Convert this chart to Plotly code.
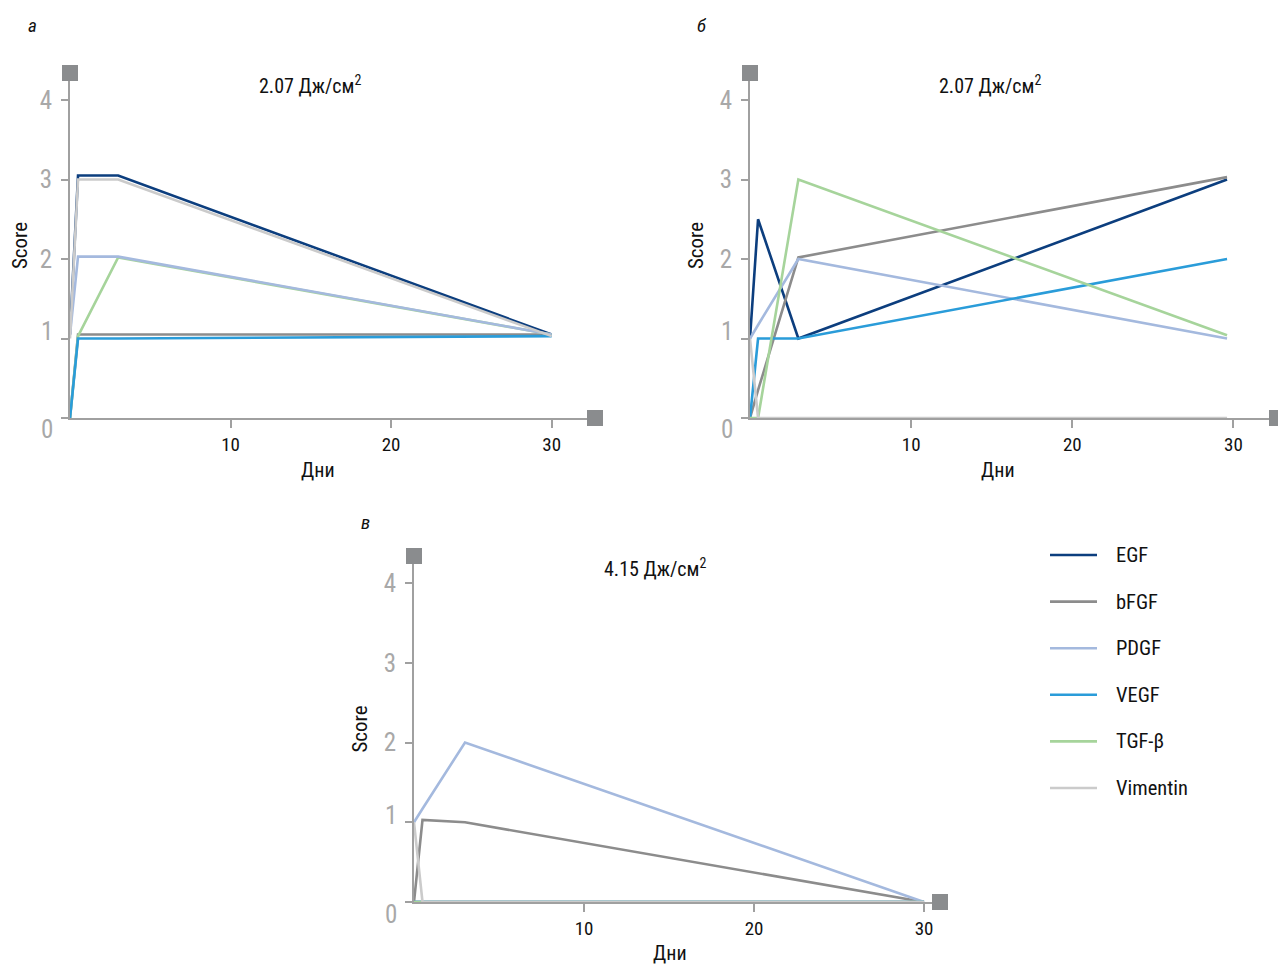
import plotly.graph_objects as go

# page body has an 8px margin; the figure is sized so it fills the rest of the window
OFF = 8
W, H = 1286 - OFF, 964 - OFF
FONT = "Liberation Sans Narrow, Roboto Condensed, Roboto, Arial Narrow, sans-serif"

# ---------------- data ----------------
series_names = ["EGF", "bFGF", "PDGF", "VEGF", "TGF-β", "Vimentin"]
series_colors = ["#0c3e7e", "#8c8c8c", "#a4b9de", "#2a9cd9", "#a6d49b", "#cbcbcb"]

panel_titles = ["2.07 Дж/см<sup>2</sup>", "2.07 Дж/см<sup>2</sup>", "4.15 Дж/см<sup>2</sup>"]
panel_letters = ["а", "б", "в"]
x_title = "Дни"
y_title = "Score"
x_ticks = [10, 20, 30]
y_ticks = [0, 1, 2, 3, 4]
y_ticktext = ["0", "1", "2", "3", "4"]

# panel а
days_a = [0, 0.5, 3, 30]
egf_a = [1.05, 3.05, 3.05, 1.05]
bfgf_a = [0, 1.05, 1.05, 1.05]
pdgf_a = [1.05, 2.03, 2.03, 1.05]
vegf_a = [0, 1.0, 1.0, 1.03]
tgf_a = [0, 1.03, 2.02, 1.05]
vim_a = [1.0, 3.0, 3.0, 1.03]

# panel б
days_b = [0, 0.5, 3, 29.6]
egf_b = [1.0, 2.5, 1.0, 3.0]
bfgf_b = [0, 0.35, 2.02, 3.03]
pdgf_b = [1.0, 1.17, 2.0, 1.0]
vegf_b = [0, 1.0, 1.0, 2.0]
tgf_b = [0, 0, 3.0, 1.04]
vim_b = [1.0, 0, 0, 0]

# panel в
days_c = [0, 0.5, 3, 30]
egf_c = [0, 0, 0, 0]
bfgf_c = [0, 1.03, 1.0, 0]
pdgf_c = [1.0, 1.17, 2.0, 0]
vegf_c = [0, 0, 0, 0]
tgf_c = [0, 0, 0, 0]
vim_c = [1.0, 0, 0, 0]

panels = [
    (days_a, [egf_a, bfgf_a, pdgf_a, vegf_a, tgf_a, vim_a]),
    (days_b, [egf_b, bfgf_b, pdgf_b, vegf_b, tgf_b, vim_b]),
    (days_c, [egf_c, bfgf_c, pdgf_c, vegf_c, tgf_c, vim_c]),
]
# drawing order of the series in each panel (indices into series_names)
draw_orders = [
    [0, 1, 4, 2, 3, 5],
    [0, 1, 2, 3, 4, 5],
    [0, 1, 2, 3, 4, 5],
]

# ---------------- layout geometry (window pixels) ----------------
def PX(px):
    return (px - OFF) / W

def PY(py):
    return 1 - (py - OFF) / H

# (left, right, top, bottom) px, x range max, y range max
geom = [
    (70, 595, 73, 418, 32.7, 4.34),
    (750, 1277, 73, 418, 32.7, 4.34),
    (414, 940, 556, 902, 30.94, 4.34),
]
title_pos = [(310, 85), (990, 85), (655, 568)]
letter_pos = [(32, 25), (702, 25), (365, 522)]
xtitle_pos = [(318, 470), (998, 470), (670, 953)]

AXIS_COL = "#a0a0a0"
YLAB_COL = "#a8a8a8"

fig = go.Figure()
shapes = []
annotations = []

for p, (days, vals) in enumerate(panels):
    sfx = "" if p == 0 else str(p + 1)
    for k in draw_orders[p]:
        fig.add_trace(go.Scatter(
            x=days, y=vals[k], mode="lines", name=series_names[k],
            line=dict(color=series_colors[k], width=2.6),
            xaxis="x" + sfx, yaxis="y" + sfx, showlegend=False,
        ))
    l, r, t, b, xmax, ymax = geom[p]
    fig.update_layout(**{
        "xaxis" + sfx: dict(
            domain=[PX(l), PX(r)], range=[0, xmax], anchor="y" + sfx,
            tickvals=x_ticks, ticks="outside", ticklen=8, tickwidth=1.5,
            tickcolor=AXIS_COL, showline=True, linecolor=AXIS_COL, linewidth=2,
            showgrid=False, zeroline=False,
            tickfont=dict(family=FONT, size=19, color="#111"),
        ),
        "yaxis" + sfx: dict(
            domain=[PY(b), PY(t)], range=[0, ymax], anchor="x" + sfx,
            tickvals=y_ticks[2:], ticktext=y_ticktext[2:],
            ticks="outside", ticklen=7, tickwidth=1.5,
            minor=dict(tickvals=y_ticks[:2], ticks="outside", ticklen=7, tickwidth=1.5,
                       tickcolor=AXIS_COL, showgrid=False),
            tickcolor=AXIS_COL, showline=True, linecolor=AXIS_COL, linewidth=2,
            showgrid=False, zeroline=False, ticklabelstandoff=4,
            tickfont=dict(family=FONT, size=25, color=YLAB_COL),
            title=dict(text=y_title, font=dict(family=FONT, size=21, color="#111"), standoff=10),
        ),
    })
    # shifted "1" and "0" y labels, as in the original
    for val, txt, sh in [(y_ticks[1], y_ticktext[1], 7), (y_ticks[0], y_ticktext[0], -12)]:
        annotations.append(dict(
            xref="x" + sfx + " domain", yref="y" + sfx, x=0, y=val,
            xanchor="right", yanchor="middle", xshift=-15, yshift=sh,
            text=txt, showarrow=False, font=dict(family=FONT, size=25, color=YLAB_COL),
        ))
    # squares at the ends of the axes
    for (xa, ya) in [(0, 1), (1, 0)]:
        shapes.append(dict(
            type="rect", xref="x" + sfx + " domain", yref="y" + sfx + " domain",
            xsizemode="pixel", ysizemode="pixel", xanchor=xa, yanchor=ya,
            x0=-8, x1=8, y0=-8, y1=8,
            fillcolor="#8a8c8e", line=dict(width=0),
        ))
    tx, ty = title_pos[p]
    annotations.append(dict(
        xref="paper", yref="paper", x=PX(tx), y=PY(ty), xanchor="center", yanchor="middle",
        text=panel_titles[p], showarrow=False, font=dict(family=FONT, size=20, color="#111"),
    ))
    lx, ly = letter_pos[p]
    annotations.append(dict(
        xref="paper", yref="paper", x=PX(lx), y=PY(ly), xanchor="center", yanchor="middle",
        text="<i>" + panel_letters[p] + "</i>", showarrow=False,
        font=dict(family=FONT, size=19, color="#111"),
    ))
    xx, xy = xtitle_pos[p]
    annotations.append(dict(
        xref="paper", yref="paper", x=PX(xx), y=PY(xy), xanchor="center", yanchor="middle",
        text=x_title, showarrow=False, font=dict(family=FONT, size=20, color="#111"),
    ))

# legend (drawn as keys next to the lower panel)
for i, (name, col) in enumerate(zip(series_names, series_colors)):
    yy = 555 + i * 46.6
    shapes.append(dict(
        type="line", xref="paper", yref="paper",
        x0=PX(1050), x1=PX(1097), y0=PY(yy), y1=PY(yy),
        line=dict(color=col, width=2.6),
    ))
    annotations.append(dict(
        xref="paper", yref="paper", x=PX(1114), y=PY(yy), xanchor="left", yanchor="middle",
        text=name, showarrow=False, font=dict(family=FONT, size=20.5, color="#111"),
    ))

fig.update_layout(
    width=W, height=H, margin=dict(l=0, r=0, t=0, b=0),
    paper_bgcolor="white", plot_bgcolor="white",
    showlegend=False, shapes=shapes, annotations=annotations,
    font=dict(family=FONT),
)

fig.write_html("out.html")
